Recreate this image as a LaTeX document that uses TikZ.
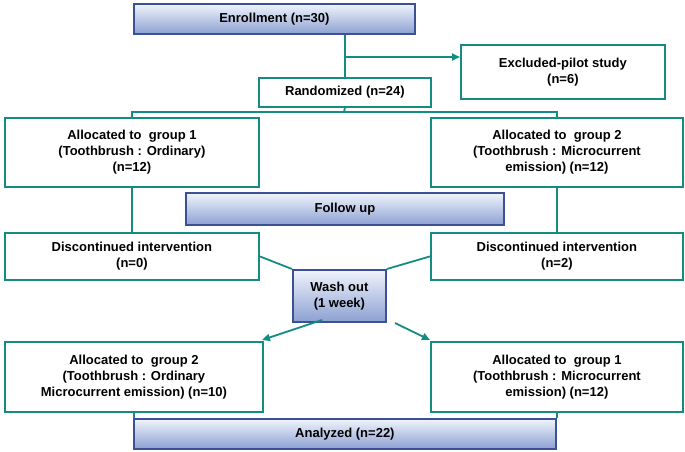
\documentclass[tikz,border=0pt]{standalone}
\usepackage{fontspec}
\setmainfont{Liberation Sans}
\usetikzlibrary{arrows.meta}
\definecolor{teal1}{RGB}{20,140,130}
\definecolor{navy}{RGB}{60,80,150}
\definecolor{gtop}{RGB}{240,244,252}
\definecolor{gbot}{RGB}{140,160,210}
\begin{document}
\begin{tikzpicture}[x=1pt,y=-1pt,
 tb/.style={draw=teal1,line width=1.8pt,fill=white,align=center,font=\fontsize{13}{16}\selectfont\bfseries,anchor=north west,inner sep=0pt},
 gb/.style={draw=navy,line width=1.8pt,top color=gtop,bottom color=gbot,align=center,font=\fontsize{13}{16}\selectfont\bfseries,anchor=north west,inner sep=0pt},
 ln/.style={draw=teal1,line width=1.8pt},
 ar/.style={ln,-{Triangle[length=8pt,width=7pt]}}]
\useasboundingbox (0,0) rectangle (685,451);
\node[gb,minimum width=281,minimum height=30] (enr) at (133,3) {Enrollment (n=30)};
\node[tb,minimum width=204,minimum height=54] (exc) at (460,44) {Excluded-pilot study\\(n=6)};
\node[tb,minimum width=172,minimum height=29] (ran) at (258,77) {Randomized (n=24)};
\node[tb,minimum width=254,minimum height=69] (g1) at (4,117) {Allocated to\ \ group 1\\(Toothbrush : Ordinary)\\(n=12)};
\node[tb,minimum width=252,minimum height=69] (g2) at (430,117) {Allocated to\ \ group 2\\(Toothbrush : Microcurrent\\emission) (n=12)};
\node[gb,minimum width=318,minimum height=32] (fu) at (185,192) {Follow up};
\node[tb,minimum width=254,minimum height=47] (d1) at (4,232) {Discontinued intervention\\(n=0)};
\node[tb,minimum width=252,minimum height=47] (d2) at (430,232) {Discontinued intervention\\(n=2)};
\node[gb,minimum width=93,minimum height=52] (wo) at (292,269) {Wash out\\(1 week)};
\node[tb,minimum width=258,minimum height=70] (b1) at (4,341) {Allocated to\ \ group 2\\(Toothbrush : Ordinary\\Microcurrent emission) (n=10)};
\node[tb,minimum width=252,minimum height=70] (b2) at (430,341) {Allocated to\ \ group 1\\(Toothbrush : Microcurrent\\emission) (n=12)};
\node[gb,minimum width=422,minimum height=30] (ana) at (133,418) {Analyzed (n=22)};
\coordinate (j1) at (345,57);
\coordinate (j2) at (344,112);
\draw[ln] (enr.south-|ran.north) -- (ran.north);
\draw[ar] (j1) -- (exc.west|-j1);
\draw[ln] (ran.south) -- (j2);
\draw[ln] (g1.north) |- (j2) -| (g2.north);
\draw[ln] (g1.south) -- (d1.north);
\draw[ln] (g2.south) -- (d2.north);
\draw[ln] (d1.east) -- (wo.north west);
\draw[ln] (d2.west) -- (wo.north east);
\draw[ar] (322,320) -- (262,340);
\draw[ar] (395,323) -- (430,340);
\draw[ln] (b1.south) -- (b1.south|-ana.north);
\draw[ln] (b2.south) -- (b2.south|-ana.north);
\end{tikzpicture}
\end{document}
